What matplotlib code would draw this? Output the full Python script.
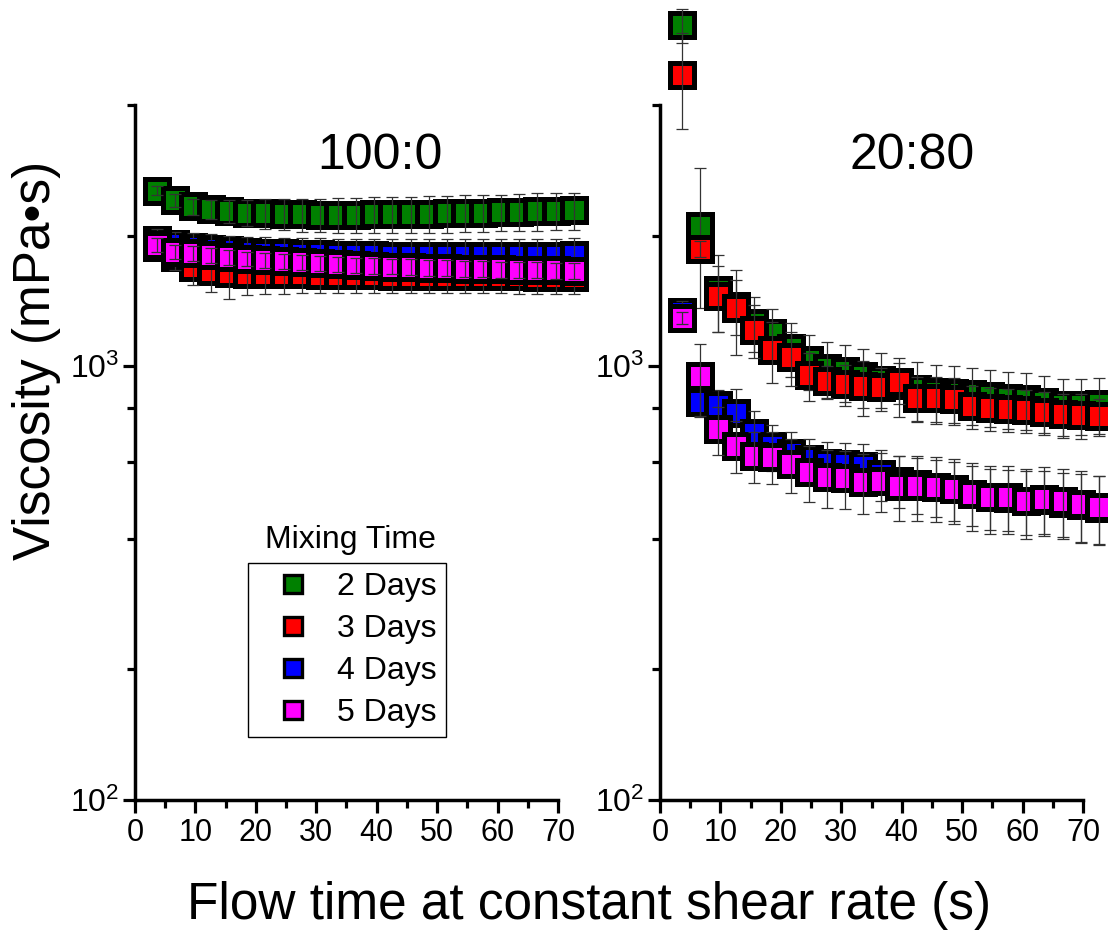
import matplotlib
matplotlib.use("Agg")
import matplotlib.pyplot as plt
from matplotlib.lines import Line2D
from matplotlib.ticker import FixedLocator, NullFormatter, MultipleLocator

plt.rcParams['font.family'] = ['Liberation Sans', 'DejaVu Sans']
plt.rcParams['mathtext.default'] = 'regular'

# flow time (s), same sampling for every run
time_s = [3.6, 6.6, 9.6, 12.6, 15.6, 18.6, 21.6, 24.6, 27.6, 30.6, 33.6, 36.6,
          39.6, 42.6, 45.6, 48.6, 51.6, 54.6, 57.6, 60.6, 63.6, 66.6, 69.6, 72.6]

series_labels = ['2 Days', '3 Days', '4 Days', '5 Days']
series_colors = ['#008000', '#ff0000', '#0000ff', '#ff00ff']

# 100:0 blend, viscosity (mPa s) and std dev
v100_d2 = [2540, 2410, 2335, 2300, 2275, 2260, 2250, 2242, 2238, 2235, 2235, 2237,
           2240, 2242, 2245, 2248, 2252, 2256, 2260, 2265, 2270, 2276, 2282, 2288]
v100_d3 = [1880, 1790, 1690, 1655, 1640, 1635, 1632, 1629, 1627, 1625, 1623, 1621,
           1619, 1617, 1616, 1615, 1614, 1613, 1612, 1611, 1610, 1609, 1608, 1607]
v100_d4 = [1950, 1910, 1885, 1865, 1850, 1838, 1828, 1820, 1814, 1810, 1806, 1803,
           1800, 1798, 1797, 1796, 1795, 1795, 1795, 1795, 1796, 1797, 1798, 1800]
v100_d5 = [1906, 1836, 1820, 1800, 1782, 1768, 1755, 1744, 1734, 1725, 1717, 1710,
           1703, 1697, 1692, 1687, 1683, 1679, 1675, 1671, 1668, 1665, 1662, 1659]
e100_d2 = [60, 80, 100, 120, 140, 160, 175, 185, 195, 200, 205, 210,
           210, 215, 215, 215, 220, 220, 220, 220, 225, 225, 225, 225]
e100_d3 = [100, 120, 150, 170, 210, 175, 168, 160, 155, 150, 150, 148,
           146, 145, 145, 144, 143, 142, 141, 140, 140, 140, 140, 140]
e100_d4 = [120, 130, 140, 150, 150, 150, 155, 155, 160, 160, 160, 160,
           160, 165, 165, 165, 165, 165, 170, 170, 170, 170, 170, 170]
e100_d5 = [70, 70, 70, 70, 70, 70, 70, 70, 70, 70, 70, 70,
           70, 70, 70, 70, 70, 70, 70, 70, 70, 70, 70, 70]

# 20:80 blend
v20_d2 = [6120, 2110, 1500, 1380, 1260, 1192, 1100, 1032, 990, 974, 948, 929,
          904, 885, 871, 866, 862, 852, 843, 839, 825, 812, 815, 817]
v20_d3 = [4690, 1865, 1452, 1362, 1212, 1089, 1049, 953, 923, 909, 899, 894,
          918, 843, 843, 839, 808, 800, 795, 791, 783, 774, 770, 766]
v20_d4 = [1330, 825, 812, 778, 700, 653, 630, 610, 598, 595, 590, 565,
          545, 535, 528, 520, 508, 500, 497, 490, 492, 485, 478, 472]
v20_d5 = [1291, 948, 715, 656, 622, 619, 596, 571, 556, 553, 542, 545,
          530, 530, 528, 522, 508, 500, 500, 490, 495, 490, 482, 474]
e20_d2 = [550, 750, 300, 200, 180, 165, 155, 150, 150, 148, 145, 142,
          140, 138, 135, 133, 130, 128, 126, 125, 123, 122, 120, 120]
e20_d3 = [1170, 75, 250, 300, 170, 175, 150, 120, 80, 100, 130, 94,
          100, 100, 100, 100, 90, 90, 90, 90, 90, 90, 92, 74]
e20_d4 = [80, 60, 70, 110, 90, 80, 75, 70, 70, 70, 70, 75,
          75, 78, 80, 80, 80, 80, 80, 82, 82, 82, 85, 85]
e20_d5 = [40, 180, 90, 90, 85, 85, 85, 85, 85, 85, 85, 85,
          90, 90, 90, 90, 90, 90, 90, 90, 90, 90, 90, 85]


def draw_panel(ax, values, errors, title, title_x):
    for i, (vals, errs) in enumerate(zip(values, errors)):
        eb = ax.errorbar(time_s, vals, yerr=errs, fmt='s', ms=17.5,
                         mfc=series_colors[i], mec='black', ecolor='#333333',
                         elinewidth=0.9, capsize=4.3, capthick=0.9,
                         barsabove=True, zorder=3 + i, clip_on=False)
        # thick outline on the symbols only, caps stay thin
        eb[0].set_markeredgewidth(3.6)
    ax.set_yscale('log')
    ax.set_ylim(100, 4000)
    ax.set_xlim(0, 70)
    ax.yaxis.set_major_locator(FixedLocator([100, 1000]))
    ax.yaxis.set_minor_locator(FixedLocator([200, 400, 600, 800, 2000, 4000]))
    ax.yaxis.set_minor_formatter(NullFormatter())
    ax.xaxis.set_major_locator(MultipleLocator(10))
    ax.xaxis.set_minor_locator(FixedLocator([5, 15, 25, 35, 45, 55, 65]))
    for side in ['top', 'right']:
        ax.spines[side].set_visible(False)
    for side in ['left', 'bottom']:
        ax.spines[side].set_linewidth(2.5)
    ax.tick_params(which='major', direction='out', length=9, width=2.3,
                   labelsize=22, pad=4)
    ax.tick_params(which='minor', direction='out', length=5.5, width=2.3)
    ax.tick_params(axis='y', which='major', pad=2, labelsize=23)
    ax.text(title_x, 0.927, title, transform=ax.transAxes, ha='center',
            va='center', fontsize=36)


fig = plt.figure(figsize=(11.08, 9.36), dpi=100)
ax1 = fig.add_axes([0.1218, 0.1453, 0.3818, 0.7425])
ax2 = fig.add_axes([0.5957, 0.1453, 0.3818, 0.7425])

draw_panel(ax1, [v100_d2, v100_d3, v100_d4, v100_d5],
           [e100_d2, e100_d3, e100_d4, e100_d5], '100:0', 0.58)
draw_panel(ax2, [v20_d2, v20_d3, v20_d4, v20_d5],
           [e20_d2, e20_d3, e20_d4, e20_d5], '20:80', 0.596)

fig.text(37 / 1108, 1 - 360 / 936, 'Viscosity (mPa\u2022s)', rotation=90,
         ha='center', va='center', fontsize=37)
fig.text(589 / 1108, 1 - 906 / 936, 'Flow time at constant shear rate (s)',
         ha='center', va='center', fontsize=37)

handles = [Line2D([], [], ls='none', marker='s', ms=12.5, mfc=c, mec='black',
                  mew=2.4) for c in series_colors]
leg = fig.legend(handles, series_labels, loc='center',
                 bbox_to_anchor=(347 / 1108, 1 - 650 / 936), frameon=True,
                 fancybox=False, edgecolor='black', framealpha=1, fontsize=23,
                 handlelength=2.2, handletextpad=0.28, labelspacing=0.37,
                 borderpad=0.3)
leg.get_frame().set_linewidth(1.0)
fig.text(350 / 1108, 1 - 540 / 936, 'Mixing Time', ha='center', va='center',
         fontsize=23)

fig.savefig('out.png', dpi=100)
